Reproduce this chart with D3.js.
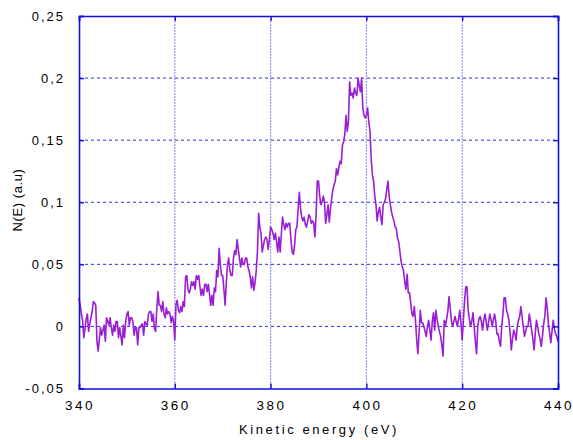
<!DOCTYPE html>
<html>
<head>
<meta charset="utf-8">
<script src="https://cdn.jsdelivr.net/npm/d3@7"></script>
<style>
  html, body { margin: 0; padding: 0; background: #fff; }
  svg { display: block; }
  text { font-family: "Liberation Sans", Arial, sans-serif; fill: #000; }
</style>
</head>
<body>
<svg id="chart" width="573" height="440"></svg>
<script>
// ---- data ----
const xTicks = [340, 360, 380, 400, 420, 440];
const yTicks = [-0.05, 0, 0.05, 0.1, 0.15, 0.2, 0.25];
const yTickLabels = ["-0,05", "0", "0,05", "0,1", "0,15", "0,2", "0,25"];
const xTitle = "Kinetic energy (eV)";
const yTitle = "N(E) (a.u)";
const energyStart = 340;   // eV, first sample
const energyStep = 0.25;   // eV between samples
const signal = [
  0.023, 0.017, 0.010, 0.005,
  -0.009, -0.002, 0.006, 0.010,
  -0.004, 0.002, 0.007, 0.012,
  0.020, 0.019, 0.017, -0.012,
  -0.020, -0.010, -0.001, -0.007,
  -0.003, 0.001, -0.012, 0.007,
  0.004, 0.001, 0.007, -0.001,
  -0.007, 0.001, -0.004, 0.004,
  0.004, -0.009, -0.001, -0.008,
  -0.015, 0.001, -0.009, 0.004,
  0.010, 0.012, 0.001, 0.007,
  0.007, 0.004, -0.007, -0.001,
  -0.001, -0.015, -0.001, -0.001,
  0.001, 0.002, -0.007, 0.004,
  0.002, 0.001, 0.010, 0.012,
  0.012, 0.004, 0.010, -0.002,
  -0.004, 0.015, 0.028, 0.017,
  0.017, 0.012, 0.020, 0.010,
  0.007, 0.015, 0.010, 0.012,
  0.010, 0.003, 0.008, 0.004,
  -0.011, 0.018, 0.021, 0.013,
  0.011, 0.016, 0.012, 0.020,
  0.016, 0.040, 0.041, 0.030,
  0.027, 0.030, 0.036, 0.033,
  0.036, 0.030, 0.041, 0.038,
  0.041, 0.032, 0.025, 0.030,
  0.025, 0.034, 0.034, 0.028,
  0.034, 0.026, 0.017, 0.025,
  0.017, 0.031, 0.028, 0.045,
  0.040, 0.063, 0.050, 0.041,
  0.041, 0.030, 0.017, 0.035,
  0.050, 0.055, 0.045, 0.041,
  0.041, 0.055, 0.061, 0.058,
  0.070, 0.062, 0.055, 0.048,
  0.055, 0.050, 0.050, 0.055,
  0.055, 0.048, 0.045, 0.040,
  0.031, 0.040, 0.029, 0.035,
  0.045, 0.060, 0.091, 0.080,
  0.075, 0.060, 0.065, 0.070,
  0.072, 0.070, 0.062, 0.070,
  0.080, 0.078, 0.075, 0.070,
  0.075, 0.068, 0.060, 0.072,
  0.060, 0.075, 0.088, 0.082,
  0.078, 0.083, 0.080, 0.083,
  0.083, 0.070, 0.060, 0.058,
  0.065, 0.078, 0.080, 0.095,
  0.108, 0.095, 0.088, 0.085,
  0.088, 0.082, 0.080, 0.085,
  0.090, 0.088, 0.083, 0.085,
  0.083, 0.072, 0.090, 0.117,
  0.117, 0.105, 0.098, 0.100,
  0.105, 0.100, 0.083, 0.090,
  0.098, 0.084, 0.095, 0.103,
  0.110, 0.114, 0.117, 0.127,
  0.122, 0.128, 0.133, 0.131,
  0.146, 0.149, 0.155, 0.170,
  0.157, 0.165, 0.197, 0.186,
  0.188, 0.184, 0.192, 0.188,
  0.186, 0.200, 0.194, 0.189,
  0.200, 0.176, 0.170, 0.168,
  0.170, 0.176, 0.165, 0.157,
  0.135, 0.122, 0.117, 0.105,
  0.098, 0.085, 0.092, 0.096,
  0.088, 0.082, 0.098, 0.100,
  0.103, 0.110, 0.117, 0.105,
  0.098, 0.092, 0.088, 0.085,
  0.080, 0.079, 0.071, 0.068,
  0.060, 0.052, 0.048, 0.045,
  0.036, 0.030, 0.042, 0.027,
  0.027, 0.019, 0.010, 0.008,
  0.016, 0.005, -0.011, -0.022,
  -0.005, 0.013, 0.003, 0.003,
  0.000, -0.004, -0.008, 0.000,
  0.005, -0.003, -0.011, 0.004,
  0.011, -0.003, 0.013, 0.006,
  0.000, -0.004, -0.008, -0.015,
  -0.024, 0.005, 0.000, 0.006,
  0.012, 0.024, 0.015, 0.004,
  0.000, 0.004, 0.008, 0.004,
  0.000, 0.006, 0.013, 0.002,
  -0.011, 0.005, 0.021, 0.032,
  0.032, 0.013, 0.006, 0.000,
  0.004, 0.011, 0.000, -0.012,
  -0.022, 0.000, 0.006, 0.008,
  0.004, -0.003, 0.005, 0.010,
  0.004, -0.003, 0.003, 0.010,
  0.006, 0.000, 0.005, 0.010,
  0.004, -0.006, -0.006, -0.012,
  -0.016, 0.000, 0.010, 0.023,
  0.023, 0.013, 0.010, 0.005,
  -0.005, -0.019, -0.010, -0.003,
  -0.006, -0.011, 0.000, 0.005,
  0.008, 0.016, 0.008, 0.000,
  -0.008, -0.004, 0.000, 0.000,
  0.010, 0.004, -0.003, -0.010,
  -0.019, -0.006, 0.005, 0.000,
  -0.006, -0.010, -0.016, -0.008,
  0.002, 0.008, 0.023, 0.015,
  0.002, -0.005, -0.013, -0.004,
  0.005, -0.002, -0.006, -0.008,
  -0.012
];

// ---- layout ----
const margin = { left: 79, right: 15, top: 16, bottom: 51.5 };
const W = 573, H = 440;
const svg = d3.select("#chart");
const x = d3.scaleLinear().domain([340, 440]).range([margin.left, W - margin.right]);
const y = d3.scaleLinear().domain([-0.05, 0.25]).range([H - margin.bottom, margin.top]);

const gridColor = "#2b2bf0";
const axisColor = "#1010d8";

// horizontal dashed grid
svg.append("g").selectAll("line")
  .data(yTicks.filter(v => v > -0.05 && v < 0.25))
  .join("line")
  .attr("x1", x(340)).attr("x2", x(440))
  .attr("y1", d => y(d)).attr("y2", d => y(d))
  .attr("stroke", gridColor).attr("stroke-width", 1)
  .attr("stroke-dasharray", "3,3");

// vertical dotted grid
svg.append("g").selectAll("line")
  .data(xTicks.filter(v => v > 340 && v < 440))
  .join("line")
  .attr("y1", y(-0.05)).attr("y2", y(0.25))
  .attr("x1", d => x(d)).attr("x2", d => x(d))
  .attr("stroke", gridColor).attr("stroke-width", 1.2)
  .attr("stroke-dasharray", "1,2");

// signal line
const line = d3.line()
  .x((d, i) => x(energyStart + i * energyStep))
  .y(d => y(d));
svg.append("path")
  .datum(signal)
  .attr("fill", "none")
  .attr("stroke", "#9a1fd4")
  .attr("stroke-width", 1.6)
  .attr("stroke-linejoin", "round")
  .attr("d", line);

// axes (inner ticks, frame)
const axL = d3.axisLeft(y).tickValues(yTicks).tickSize(-5).tickFormat("");
const axR = d3.axisRight(y).tickValues(yTicks).tickSize(-5).tickFormat("");
const axB = d3.axisBottom(x).tickValues(xTicks).tickSize(-5).tickFormat("");
const axT = d3.axisTop(x).tickValues(xTicks).tickSize(-5).tickFormat("");
[[axL, `translate(${x(340)},0)`], [axR, `translate(${x(440)},0)`],
 [axB, `translate(0,${y(-0.05)})`], [axT, `translate(0,${y(0.25)})`]].forEach(([ax, tr]) => {
  const g = svg.append("g").attr("transform", tr).call(ax);
  g.selectAll("path.domain").attr("stroke", axisColor).attr("stroke-width", 1.6);
  g.selectAll(".tick line").attr("stroke", axisColor).attr("stroke-width", 1.4);
});

// y tick labels
svg.append("g").selectAll("text")
  .data(yTicks)
  .join("text")
  .attr("x", 65)
  .attr("y", d => y(d) + 4.5)
  .attr("text-anchor", "end")
  .style("font-size", "13px")
  .style("letter-spacing", "2px")
  .text((d, i) => yTickLabels[i]);

// x tick labels
svg.append("g").selectAll("text")
  .data(xTicks)
  .join("text")
  .attr("x", d => x(d) + 1)
  .attr("y", 410)
  .attr("text-anchor", "middle")
  .style("font-size", "13.5px")
  .style("letter-spacing", "2.5px")
  .text(d => d);

// axis titles
svg.append("text")
  .attr("x", 319)
  .attr("y", 434)
  .attr("text-anchor", "middle")
  .style("font-size", "13px")
  .style("letter-spacing", "2.6px")
  .text(xTitle);

svg.append("text")
  .attr("transform", `translate(22,${200}) rotate(-90)`)
  .attr("text-anchor", "middle")
  .style("font-size", "13px")
  .style("letter-spacing", "0.6px")
  .text(yTitle);
</script>
</body>
</html>
